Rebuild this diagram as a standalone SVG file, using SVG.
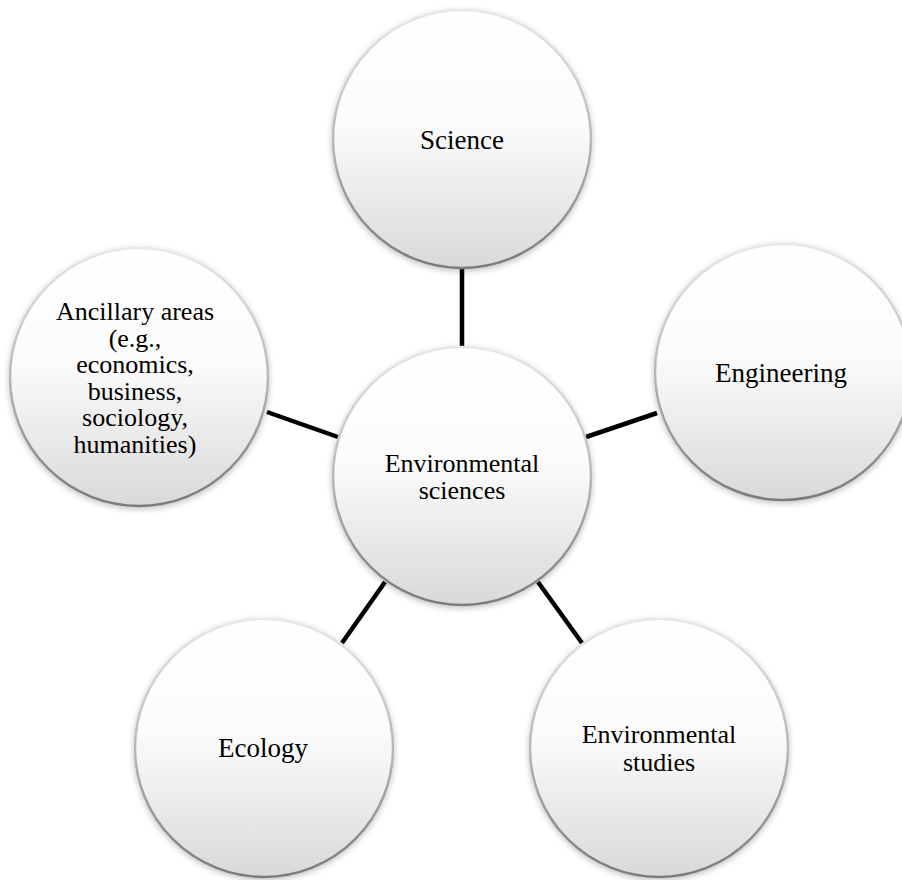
<svg xmlns="http://www.w3.org/2000/svg" width="902" height="880" viewBox="0 0 902 880">
<style>
.bub{fill:url(#fillG);stroke:url(#rimG);stroke-width:2.5;filter:url(#sh)}
.lbl{font-family:"Liberation Serif","Times New Roman",serif;font-size:27px;fill:#000;text-anchor:middle}
.sm{font-size:26px}
.con{stroke:#000;stroke-width:4.5;fill:none}
</style>
<defs>
<linearGradient id="fillG" x1="0" y1="0" x2="0" y2="1">
<stop offset="0" stop-color="#ffffff"/>
<stop offset="0.45" stop-color="#fbfbfb"/>
<stop offset="1" stop-color="#d9d9d9"/>
</linearGradient>
<linearGradient id="rimG" x1="0" y1="0" x2="0" y2="1">
<stop offset="0" stop-color="#e8e8e8"/>
<stop offset="0.5" stop-color="#b8b8b8"/>
<stop offset="1" stop-color="#7a7a7a"/>
</linearGradient>
<filter id="sh" x="-20%" y="-20%" width="140%" height="140%">
<feGaussianBlur in="SourceAlpha" stdDeviation="3"/>
<feOffset dy="2" result="b"/>
<feComponentTransfer in="b" result="s"><feFuncA type="linear" slope="0.25"/></feComponentTransfer>
<feMerge><feMergeNode in="s"/><feMergeNode in="SourceGraphic"/></feMerge>
</filter>
</defs>
<rect width="902" height="880" fill="#fff"/>
<g id="connectors">
<line class="con" x1="462" y1="268" x2="462" y2="348"/>
<line class="con" x1="586" y1="437" x2="657" y2="413"/>
<line class="con" x1="267" y1="412" x2="338" y2="437"/>
<line class="con" x1="385" y1="582" x2="342" y2="643"/>
<line class="con" x1="538" y1="582" x2="582" y2="643"/>
</g>
<g id="science">
<circle class="bub" cx="462" cy="139" r="129"/>
<text class="lbl" x="462" y="149">Science</text>
</g>
<g id="engineering">
<circle class="bub" cx="783" cy="372" r="128"/>
<text class="lbl" x="781" y="382">Engineering</text>
</g>
<g id="ancillary">
<circle class="bub" cx="139" cy="377" r="129"/>
<text class="lbl sm" x="135" y="320">Ancillary areas</text>
<text class="lbl sm" x="135" y="346.6">(e.g.,</text>
<text class="lbl sm" x="135" y="373.2">economics,</text>
<text class="lbl sm" x="135" y="399.8">business,</text>
<text class="lbl sm" x="135" y="426.4">sociology,</text>
<text class="lbl sm" x="135" y="453">humanities)</text>
</g>
<g id="environmental-sciences">
<circle class="bub" cx="462" cy="476" r="129"/>
<text class="lbl sm" x="462" y="472">Environmental</text>
<text class="lbl sm" x="462" y="499">sciences</text>
</g>
<g id="ecology">
<circle class="bub" cx="264" cy="748" r="129"/>
<text class="lbl" x="263" y="757">Ecology</text>
</g>
<g id="environmental-studies">
<circle class="bub" cx="659" cy="748" r="129"/>
<text class="lbl sm" x="659" y="743">Environmental</text>
<text class="lbl sm" x="659" y="771">studies</text>
</g>
</svg>
